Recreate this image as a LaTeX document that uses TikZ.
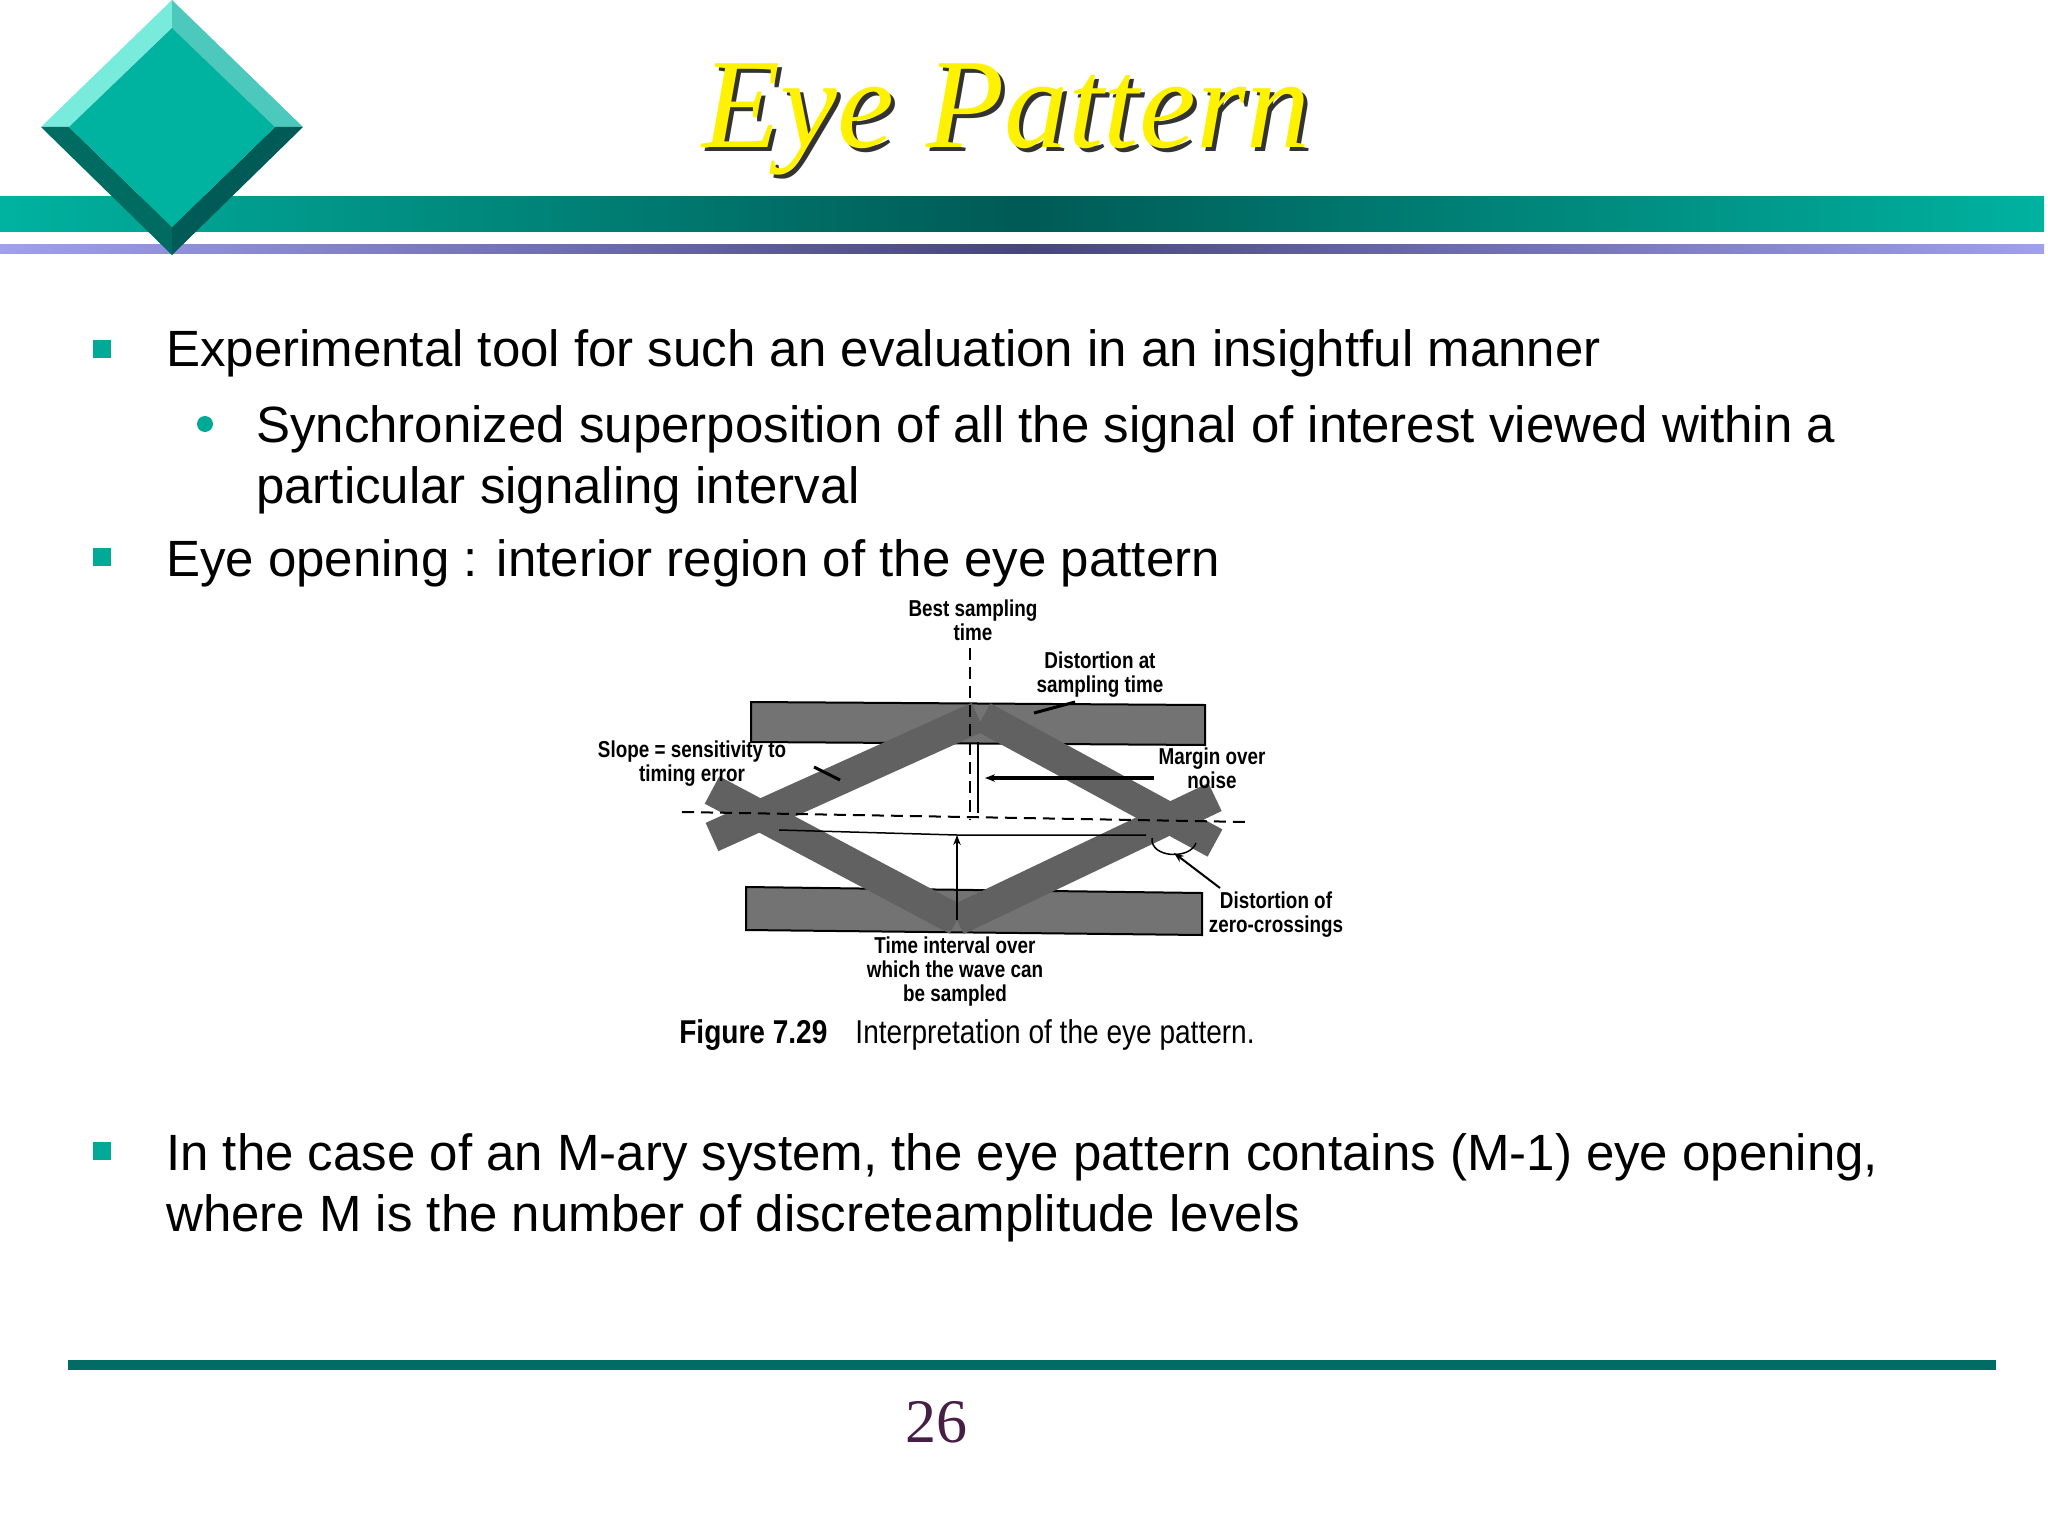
\documentclass[tikz,border=0pt]{standalone}
\usepackage{fontspec}
\setmainfont{Liberation Sans}
\newfontfamily\serifit{Liberation Serif}
\usetikzlibrary{arrows.meta}
\definecolor{tealA}{RGB}{0,178,160}
\definecolor{tealD}{RGB}{0,90,85}
\definecolor{tealL}{RGB}{120,235,220}
\definecolor{bull}{RGB}{0,170,150}
\definecolor{pnum}{RGB}{70,30,70}
\tikzset{
 body/.style={anchor=base west,inner sep=0pt,font=\fontsize{51}{60}\selectfont},
 lbl/.style={align=center,inner sep=0pt,font=\fontsize{23}{24}\selectfont\bfseries,xscale=0.82},
 band/.style={draw=black,line width=2pt,fill=black!55},
 xstroke/.style={line width=31pt,draw=black!62,line cap=butt},
 ptr/.style={line width=2pt,-{Stealth[length=10pt]}},
 sq/.style={fill=bull,minimum size=18pt,inner sep=0pt},
}
\begin{document}
\begin{tikzpicture}[x=1pt,y=-1pt]
\useasboundingbox (0,0) rectangle (2048,1536);
\fill[white] (0,0) rectangle (2048,1536);
% header bars
\shade[left color=tealA,right color=tealA,middle color=tealD] (0,196) rectangle (2044,231);
\shade[left color={rgb,255:red,160;green,160;blue,235},right color={rgb,255:red,160;green,160;blue,235},middle color={rgb,255:red,70;green,70;blue,120}] (0,244) rectangle (2044,253);
% diamond
\coordinate (dT) at (172,0); \coordinate (dR) at (303,127); \coordinate (dB) at (172,255); \coordinate (dL) at (41,127);
\coordinate (iT) at (172,28); \coordinate (iR) at (275,127); \coordinate (iB) at (172,227); \coordinate (iL) at (69,127);
\fill[tealL] (dL)--(dT)--(iT)--(iL)--cycle;
\fill[tealA!70!white] (dT)--(dR)--(iR)--(iT)--cycle;
\fill[tealD] (dR)--(dB)--(iB)--(iR)--cycle;
\fill[tealA!60!black] (dB)--(dL)--(iL)--(iB)--cycle;
\fill[tealA] (iT)--(iR)--(iB)--(iL)--cycle;
% title
\node[font=\serifit\itshape\fontsize{128}{130}\selectfont,text=black!80,anchor=base] at (1010,152) {Eye Pattern};
\node[font=\serifit\itshape\fontsize{128}{130}\selectfont,text=yellow,anchor=base] (title) at (1006,148) {Eye Pattern};
% bullets
\node[sq] (b1) at (102,349) {};
\node[body] (t1) at (166,366) {Experimental tool for such an evaluation in an insightful manner};
\node[circle,fill=bull,minimum size=16pt,inner sep=0pt] (b1a) at (205,424) {};
\node[body] (t1a) at (256,442) {Synchronized superposition of all the signal of interest viewed within a};
\node[body] (t1b) at (256,503) {particular signaling interval};
\node[sq] (b2) at (102,557) {};
\node[body] (t2) at (166,576) {Eye opening : interior region of the eye pattern};
\node[sq] (b3) at (102,1151) {};
\node[body] (t3) at (166,1170) {In the case of an M-ary system, the eye pattern contains (M-1) eye opening,};
\node[body] (t3b) at (166,1231) {where M is the number of discreteamplitude levels};
% figure
\draw[band] (751,702) -- (1205,705) -- (1205,745) -- (751,742) -- cycle;
\draw[band] (746,887) -- (1202,893) -- (1202,935) -- (746,930) -- cycle;
\coordinate (xa1) at (712,837); \coordinate (xa2) at (978,717);
\coordinate (xb1) at (712,790); \coordinate (xb2) at (957,920);
\coordinate (xc1) at (983,717); \coordinate (xc2) at (1215,843);
\coordinate (xd1) at (957,920); \coordinate (xd2) at (1215,797);
\draw[xstroke] (xa1)--(xa2); \draw[xstroke] (xb1)--(xb2);
\draw[xstroke] (xc1)--(xc2); \draw[xstroke] (xd1)--(xd2);
\coordinate (vt) at (970,648); \coordinate (vb) at (970,820);
\draw[line width=2pt,dash pattern=on 12pt off 7pt] (vt)--(vb);
\coordinate (hl) at (682,812); \coordinate (hr) at (1248,822);
\draw[line width=2pt,dash pattern=on 12pt off 7pt] (hl)--(hr);
\coordinate (ms) at (1154,778); \coordinate (me) at (985,778);
\draw[ptr,line width=4pt] (ms)--(me);
\draw[line width=1.5pt] (978,742) -- (978,813);
\coordinate (ts) at (957,920); \coordinate (te) at (957,835);
\draw[ptr] (ts)--(te);
\draw[line width=1.5pt] (779,830) -- (957,835) -- (1146,835);
\draw[line width=3pt] (1075,702) -- (1034,713);
\draw[line width=3pt] (814,767) -- (840,780);
\coordinate (zs) at (1220,888); \coordinate (ze) at (1174,853);
\draw[ptr] (zs)--(ze);
\draw[line width=1.5pt] (1152,838) .. controls (1150,858) and (1190,860) .. (1196,843);
% labels
\node[lbl] (l1) at (973,620) {Best sampling\\time};
\node[lbl] (l2) at (1100,675) {Distortion at\\sampling time};
\node[lbl] (l3) at (692,764) {Slope = sensitivity to\\timing error};
\node[lbl] (l4) at (1212,768) {Margin over\\noise};
\node[lbl] (l5) at (1276,915) {Distortion of\\zero-crossings};
\node[lbl] (l6) at (955,972) {Time interval over\\which the wave can\\be sampled};
\node[inner sep=0pt,font=\fontsize{33}{36}\selectfont,xscale=0.85] (cap) at (967,1035) {\textbf{Figure 7.29}\quad Interpretation of the eye pattern.};
% footer
\fill[tealD!80!tealA] (68,1360) rectangle (1996,1370);
\node[font=\serifit\fontsize{62}{64}\selectfont,text=pnum,anchor=base] (pg) at (936,1442) {26};
\end{tikzpicture}
\end{document}
